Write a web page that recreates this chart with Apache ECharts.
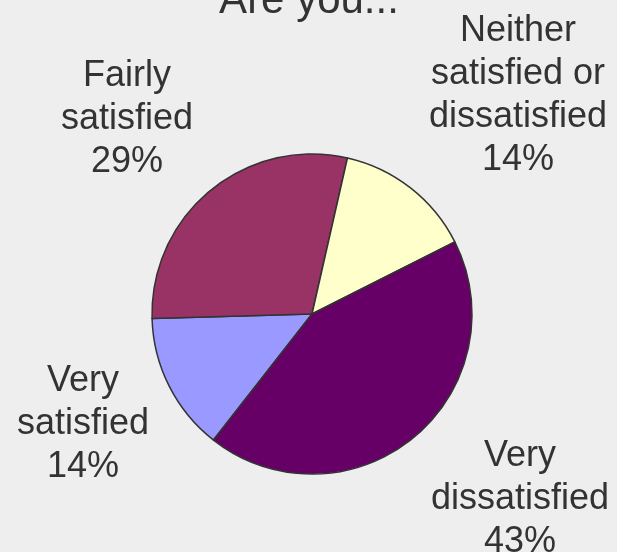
<!DOCTYPE html>
<html>
<head>
<meta charset="utf-8">
<script src="https://cdn.jsdelivr.net/npm/echarts@6/dist/echarts.min.js"></script>
<style>
  html, body { margin: 0; padding: 0; background: #eeeeee; }
  #chart { width: 617px; height: 552px; }
</style>
</head>
<body>
<div id="chart"></div>
<script>
// Survey answers to "Are you..."
const categories = [
  "Very\nsatisfied",
  "Fairly\nsatisfied",
  "Neither\nsatisfied or\ndissatisfied",
  "Very\ndissatisfied"
];
const percentages = [14, 29, 14, 43];
const sliceColors = ["#9999ff", "#993366", "#ffffcc", "#660066"];

// Label block centres, one per slice
const labelAnchors = [
  [83, 424],
  [127, 119],
  [518, 96],
  [520, 499]
];

const chart = echarts.init(document.getElementById('chart'));

chart.setOption({
  backgroundColor: '#eeeeee',
  animation: false,
  title: {
    text: 'Are you...',
    left: 304,
    textAlign: 'center',
    top: -25,
    textStyle: {
      fontFamily: 'Liberation Sans, Arial, sans-serif',
      fontSize: 42,
      fontWeight: 'normal',
      color: '#333333'
    }
  },
  series: [{
    type: 'pie',
    center: [312, 314],
    radius: [0, 160],
    startAngle: 232,
    clockwise: true,
    avoidLabelOverlap: false,
    itemStyle: {
      borderColor: '#333333',
      borderWidth: 1.5
    },
    label: {
      show: true,
      position: 'outside',
      formatter: p => p.name + '\n' + p.value + '%',
      fontFamily: 'Liberation Sans, Arial, sans-serif',
      fontSize: 36,
      lineHeight: 43,
      color: '#333333',
      align: 'center'
    },
    labelLine: { show: false },
    labelLayout: params => {
      const a = labelAnchors[params.dataIndex];
      return { x: a[0], y: a[1], align: 'center', verticalAlign: 'middle' };
    },
    emphasis: { disabled: true },
    data: categories.map((name, i) => ({
      name: name,
      value: percentages[i],
      itemStyle: { color: sliceColors[i] }
    }))
  }]
});
</script>
</body>
</html>
